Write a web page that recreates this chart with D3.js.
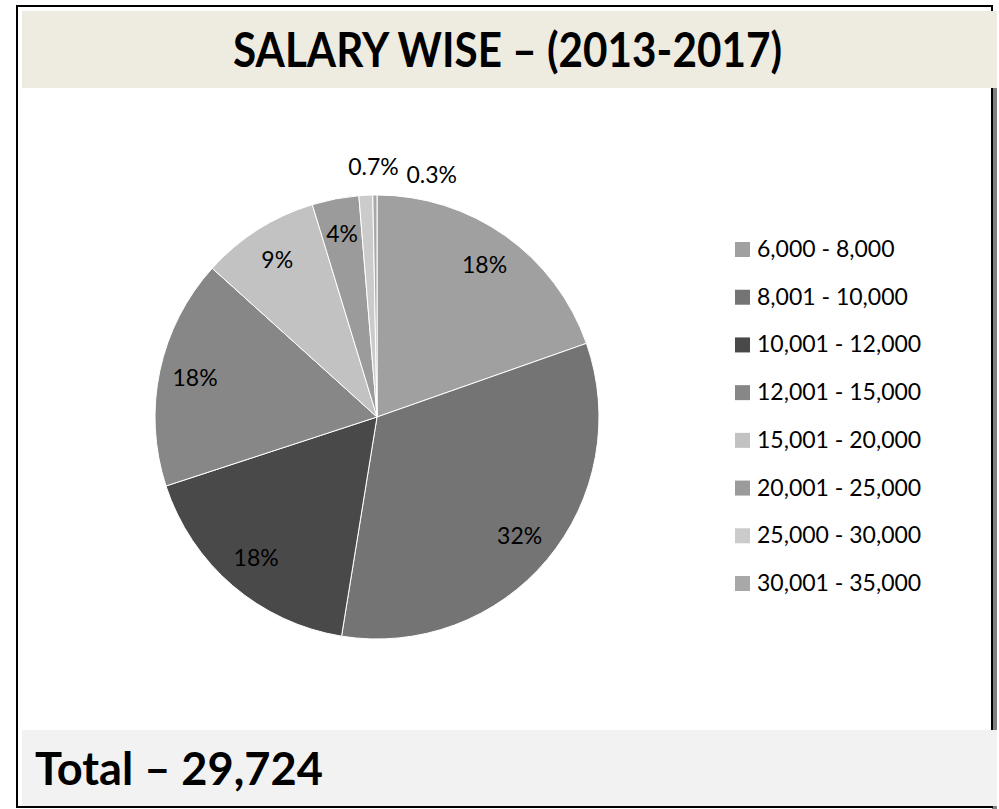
<!DOCTYPE html>
<html>
<head>
<meta charset="utf-8">
<script src="https://cdn.jsdelivr.net/npm/d3@7"></script>
<style>
  body { margin: 0; background: #fff; }
  text { font-family: Lato, "Open Sans", sans-serif; fill: #000; }
</style>
</head>
<body>
<div id="chart"></div>
<script>
// salary bands and their share
var categories = ["6,000 - 8,000", "8,001 - 10,000", "10,001 - 12,000", "12,001 - 15,000",
                  "15,001 - 20,000", "20,001 - 25,000", "25,000 - 30,000", "30,001 - 35,000"];
var shares = [19.6, 32.9, 17.4, 16.7, 8.6, 3.4, 1.0, 0.3];
// percent labels as printed on the chart
var labels = ["18%", "32%", "18%", "18%", "9%", "4%", "0.7%", "0.3%"];
var colors = ["#a0a0a0", "#747474", "#494949", "#878787", "#c2c2c2", "#9b9b9b", "#cbcbcb", "#a8a8a8"];
var title = "SALARY WISE \u2013 (2013-2017)";
var total = "Total \u2013 29,724";

window.onload = function() {
  var width = 999, height = 809;

  var svg = d3.select("#chart")
              .append("svg")
              .attr("width", width)
              .attr("height", height);

  // shadow on the right edge
  svg.append("rect")
     .attr("x", 992).attr("y", 12)
     .attr("width", 5).attr("height", 797)
     .style("fill", "#808080");

  // frame
  svg.append("rect")
     .attr("x", 17).attr("y", 6)
     .attr("width", 975).attr("height", 801)
     .style("fill", "#fff")
     .style("stroke", "#000")
     .style("stroke-width", 2);

  // title band
  svg.append("rect")
     .attr("x", 22).attr("y", 11)
     .attr("width", 975).attr("height", 77)
     .style("fill", "#eeebe0");
  svg.append("text")
     .attr("x", 233).attr("y", 67)
     .attr("textLength", 549)
     .attr("lengthAdjust", "spacingAndGlyphs")
     .style("font-size", "47px")
     .style("font-weight", "bold")
     .text(title);

  // footer band
  svg.append("rect")
     .attr("x", 22).attr("y", 730)
     .attr("width", 975).attr("height", 76)
     .style("fill", "#f2f2f2");
  svg.append("text")
     .attr("x", 35).attr("y", 785)
     .attr("textLength", 288)
     .attr("lengthAdjust", "spacingAndGlyphs")
     .style("font-size", "45px")
     .style("font-weight", "bold")
     .text(total);

  // pie
  var cx = 377, cy = 417, r = 222;
  var color = d3.scaleOrdinal().domain(categories).range(colors);
  var pie = d3.pie().sort(null).value(function(d) { return d.value; });
  var data = categories.map(function(c, i) { return {name: c, value: shares[i], label: labels[i]}; });
  var arcs = pie(data);
  var arc = d3.arc().innerRadius(0).outerRadius(r);
  var labelArc = d3.arc().innerRadius(186).outerRadius(186);
  var outerArc = d3.arc().innerRadius(r + 28).outerRadius(r + 28);

  var g = svg.append("g").attr("transform", "translate(" + cx + "," + cy + ")");
  g.selectAll("path")
   .data(arcs)
   .enter()
   .append("path")
   .attr("d", arc)
   .style("fill", function(d) { return color(d.data.name); })
   .style("stroke", "#fff")
   .style("stroke-width", 1);

  // labels: big slices inside, tiny ones above the pie
  var small = 0;
  g.selectAll(".lbl")
   .data(arcs)
   .enter()
   .append("text")
   .attr("class", "lbl")
   .style("font-size", "23px")
   .attr("dy", "0.35em")
   .attr("text-anchor", "middle")
   .attr("transform", function(d) {
     if (d.data.value >= 2) return "translate(" + labelArc.centroid(d) + ")";
     var p = outerArc.centroid(d);
     var t = "translate(" + (p[0] + 9 + small * 48) + "," + (p[1] + small * 8) + ")";
     small++;
     return t;
   })
   .text(function(d) { return d.data.label; });

  // legend
  var ly = d3.scalePoint().domain(categories).range([249, 583]);
  var legend = svg.append("g")
                  .selectAll("g")
                  .data(categories)
                  .enter()
                  .append("g")
                  .attr("transform", function(d) { return "translate(735," + ly(d) + ")"; });
  legend.append("rect")
        .attr("x", 0).attr("y", -7)
        .attr("width", 15).attr("height", 15)
        .style("fill", function(d) { return color(d); });
  legend.append("text")
        .attr("x", 22).attr("dy", "0.35em")
        .style("font-size", "23px")
        .text(function(d) { return d; });
};
</script>
</body>
</html>
